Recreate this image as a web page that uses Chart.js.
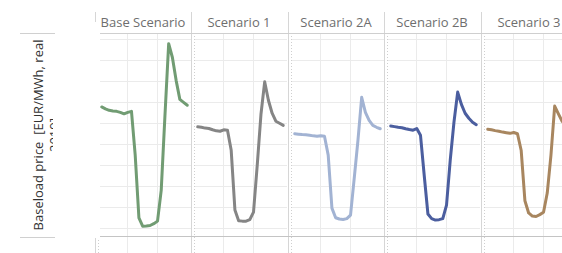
<!DOCTYPE html>
<html>
<head>
<meta charset="utf-8">
<script src="https://cdn.jsdelivr.net/npm/chart.js@4.4.0/dist/chart.umd.min.js"></script>
<style>
body { margin:0; width:562px; height:253px; overflow:hidden; background:#fff; position:relative; font-family:"Open Sans", sans-serif; }
.hdr { position:absolute; top:12px; height:21px; line-height:21px; text-align:center; font-size:13px; color:#6e6e6e; white-space:nowrap; }
.sep { position:absolute; top:12px; height:241px; width:1px; background:#d6d6d6; }
.hline { position:absolute; height:1px; background:#d0d0d0; }
.panel { position:absolute; }
#ytitle { position:absolute; left:30px; top:33px; width:23px; height:204px; overflow:hidden; }
#ytitle div { position:absolute; left:0; top:204px; width:204px; transform-origin:0 0; transform:rotate(-90deg);
  text-align:center; font-size:13px; line-height:16px; color:#333; }
</style>
</head>
<body>
<div id="ytitle"><div>Baseload price&nbsp; [EUR/MWh, real 2019]</div></div>
<div class="hline" style="left:20px;top:33px;width:35px"></div>
<div class="hline" style="left:20px;top:237px;width:35px"></div>

<script>
// hour of day, one value per hour
var hours = [1,2,3,4,5,6,7,8,9,10,11,12,13,14,15,16,17,18,19,20,21,22,23,24]
var scenarios = ['Base Scenario', 'Scenario 1', 'Scenario 2A', 'Scenario 2B', 'Scenario 3']

var baseScenario = [57.8,56.9,56.2,55.9,55.7,55.2,54.5,55.2,55.7,34.8,4.8,0.9,1.0,1.2,2.1,3.3,18.1,53.8,88.0,81.4,70.5,61.4,60.0,58.6]
var scenario1 = [48.3,48.1,47.7,47.5,46.9,46.4,46.2,46.9,46.7,37.1,8.6,3.5,3.3,3.3,4.0,7.6,30.0,54.3,69.8,61.0,54.8,51.0,50.0,49.0]
var scenario2A = [45.0,44.8,44.6,44.5,44.3,44.0,43.8,44.1,43.8,34.8,9.5,4.9,4.3,4.1,4.5,6.2,23.8,41.9,62.4,55.2,51.4,49.0,48.1,47.4]
var scenario2B = [48.7,48.4,48.1,47.9,47.4,47.0,46.7,47.5,44.3,25.2,6.7,4.5,3.8,4.0,4.5,10.9,32.4,50.5,64.9,59.0,54.8,52.4,50.5,49.3]
var scenario3 = [47.2,46.9,46.5,46.2,45.8,45.5,45.2,45.6,45.0,37.0,13.0,7.2,5.7,5.5,6.4,7.5,16.7,34.8,58.2,54.5,51.0,49.0,47.6,46.7]

var hourGrid = [8, 16]
var priceGrid = [0, 10, 20, 30, 40, 50, 60, 70, 80, 90]

var seriesList = [baseScenario, scenario1, scenario2A, scenario2B, scenario3]
var lineColors = ['#719c73', '#858585', '#a2b3d3', '#4b5e9f', '#a8865f']

var panelLeft = [95, 191, 288, 384, 481]
var panelWidth = 96

// dotted zero line on the left of every panel
var zeroLine = {
    id: 'zeroLine',
    beforeDatasetsDraw: function (chart) {
        var ctx = chart.ctx
        var x = Math.round(chart.scales.x.getPixelForValue(0)) + 0.5
        ctx.save()
        ctx.strokeStyle = '#cfcfcf'
        ctx.lineWidth = 1
        ctx.setLineDash([1, 2])
        ctx.beginPath()
        ctx.moveTo(x, 0)
        ctx.lineTo(x, chart.height)
        ctx.stroke()
        ctx.restore()
    }
}

function addDiv(cls, style, text) {
    var d = document.createElement('div')
    d.className = cls
    d.style.cssText = style
    if (text) d.textContent = text
    document.body.appendChild(d)
    return d
}

function makePanel(i, top, height, withData) {
    var wrap = addDiv('panel', 'left:' + (panelLeft[i] + 1) + 'px;top:' + top + 'px;width:' + (panelWidth - 1) + 'px;height:' + height + 'px')
    var cv = document.createElement('canvas')
    cv.width = panelWidth - 1
    cv.height = height
    wrap.appendChild(cv)

    var datasets = []
    if (withData) {
        datasets.push({
            data: hours.map(function (h, k) { return { x: h, y: seriesList[i][k] } }),
            borderColor: lineColors[i],
            borderWidth: 3,
            pointRadius: 0,
            tension: 0,
            borderJoinStyle: 'round',
            borderCapStyle: 'round',
            fill: false
        })
    }

    new Chart(cv, {
        type: 'line',
        data: { datasets: datasets },
        options: {
            responsive: false,
            animation: false,
            layout: { padding: { left: 2, right: 0, top: 0, bottom: 0 } },
            plugins: { legend: { display: false }, tooltip: { enabled: false } },
            scales: {
                x: {
                    type: 'linear', min: 0, max: 25,
                    afterBuildTicks: function (s) { s.ticks = hourGrid.map(function (v) { return { value: v } }) },
                    ticks: { display: false },
                    grid: { color: '#ebebeb', drawTicks: false },
                    border: { display: false }
                },
                y: {
                    min: -3.8, max: 93.1,
                    display: withData,
                    afterBuildTicks: function (s) { s.ticks = priceGrid.map(function (v) { return { value: v } }) },
                    ticks: { display: false },
                    grid: { color: '#ebebeb', drawTicks: false },
                    border: { display: false }
                }
            }
        },
        plugins: [zeroLine]
    })
}

for (var i = 0; i < scenarios.length; i++) {
    addDiv('hdr', 'left:' + panelLeft[i] + 'px;width:' + panelWidth + 'px', scenarios[i])
    makePanel(i, 33, 203, true)
    makePanel(i, 237, 16, false)
    addDiv('sep', 'left:' + panelLeft[i] + 'px')
}

// header bottom and x axis line
addDiv('hline', 'left:95px;top:33px;width:467px;background:#cfcfcf')
addDiv('hline', 'left:95px;top:236px;width:467px;background:#c4c4c4')
// blank strip left of the first panel, as in the source picture
addDiv('', 'position:absolute;left:56px;top:22px;width:44px;height:216px;background:#fff')
</script>
</body>
</html>
